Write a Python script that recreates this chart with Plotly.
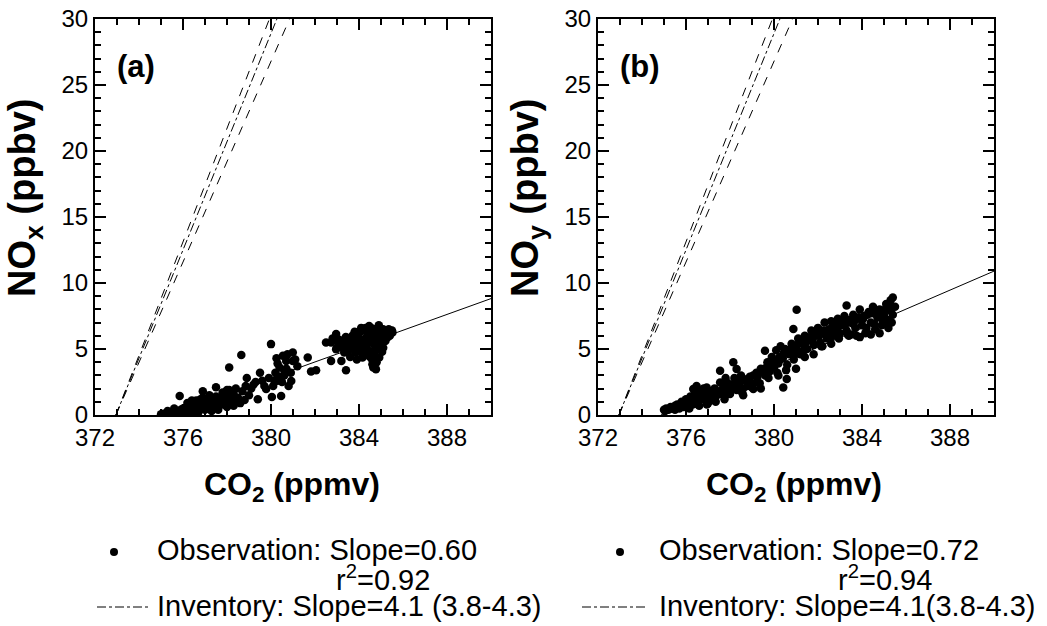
import plotly.graph_objects as go

# ---------------- data ----------------
# Panel (a): NOx vs CO2 observations
a_x = [375.0, 375.1, 375.2, 375.3, 375.4, 375.5, 375.6, 375.7, 375.8, 375.9, 376.0, 376.0, 376.1, 376.2, 376.2,
       376.3, 376.4, 376.5, 376.5, 376.6, 376.7, 376.7, 376.8, 376.9, 377.0, 377.0, 377.1, 377.2, 377.3, 377.3,
       377.4, 377.5, 377.6, 377.6, 377.7, 377.8, 377.9, 378.0, 378.0, 378.1, 378.2, 378.3, 378.3, 378.4, 378.5,
       378.6, 375.85, 376.9, 377.5, 378.1, 378.0, 378.65, 378.85, 378.8, 379.4, 379.5, 379.78, 380.0, 380.04,
       380.16, 380.39, 380.54, 380.46, 380.69, 380.99, 380.92, 380.99, 381.67, 381.82, 382.05, 382.73, 382.73,
       382.5, 382.96, 383.2, 383.41, 382.96, 380.2, 380.4, 380.6, 380.3, 380.7, 380.8, 380.1, 379.9, 380.5,
       381.2, 379.6, 379.2, 379.0, 378.9, 376.4, 376.2, 375.3, 375.6, 376.8, 377.1,
       383.71, 384.01, 384.31, 384.46, 384.61, 384.92, 385.22, 385.52, 384.61, 384.77, 384.92, 383.86, 384.16,
       384.46, 385.07, 385.29, 384.77, 384.31, 383.56, 383.33, 383.5, 383.8, 384.0, 384.2, 384.4, 384.6, 384.8,
       385.0, 385.2, 385.4, 384.1, 384.3, 384.5, 384.7, 384.9, 385.1, 384.0, 384.2, 384.5, 384.7, 384.9, 385.1,
       385.3, 383.6, 383.9, 384.6, 384.8, 384.65, 383.2, 383.0, 382.8, 383.4, 383.7, 385.4, 385.5, 385.0, 384.4,
       383.9,
       375.05, 375.15, 375.25, 375.35, 375.45, 375.55, 375.65, 375.75, 375.85, 375.95, 376.05, 376.15, 376.25,
       376.35, 376.45, 376.55, 376.65, 376.75, 376.85, 376.95, 377.05, 377.15, 377.25, 377.35, 377.45, 377.55,
       377.65, 377.75, 377.85, 377.95, 378.05, 378.15, 378.25, 378.35, 378.45, 376.3, 376.6, 376.9, 377.2, 377.5,
       377.8, 378.1, 378.4, 378.7, 379.1, 379.3, 379.7, 380.3, 380.6, 380.9, 381.1, 380.25, 380.75,
       383.0, 383.15, 383.3, 383.45, 383.6, 383.75, 383.9, 384.05, 384.2, 384.35, 384.5, 384.65, 384.8, 384.95,
       385.1, 385.25, 385.4, 383.1, 383.4, 383.7, 384.0, 384.3, 384.55, 384.85, 385.15, 385.35, 384.15, 384.45,
       384.75, 385.05, 384.25, 384.55, 384.85, 383.8, 384.1, 384.7]
a_y = [0.05, 0.1, 0.0, 0.15, 0.05, 0.2, 0.1, 0.3, 0.15, 0.4, 0.2, 0.5, 0.3, 0.6, 0.1,
       0.4, 0.7, 0.3, 0.9, 0.5, 0.8, 0.2, 0.6, 1.0, 0.4, 0.8, 1.1, 0.6, 0.9, 0.3,
       1.2, 0.7, 1.0, 0.4, 1.3, 0.8, 1.1, 0.6, 1.4, 0.9, 1.2, 0.7, 1.6, 1.0, 1.3,
       0.9, 1.44, 1.8, 2.1, 3.6, 1.9, 4.55, 2.2, 1.14, 1.2, 3.2, 1.97, 5.37, 1.37,
       2.58, 3.6, 4.48, 1.44, 4.1, 4.73, 2.58, 4.1, 4.35, 3.29, 3.39, 4.1, 5.49,
       5.5, 6.13, 4.1, 3.39, 4.98, 3.2, 2.9, 3.0, 3.9, 3.5, 2.2, 2.2, 2.8, 2.5,
       3.7, 2.6, 2.3, 1.5, 2.8, 1.1, 0.9, 0.3, 0.5, 1.2, 0.7,
       5.87, 5.11, 5.61, 6.75, 6.12, 6.63, 6.37, 6.25, 3.84, 3.46, 4.35, 4.73, 4.35,
       4.85, 5.61, 5.87, 5.11, 4.6, 5.36, 4.73, 4.9, 5.4, 5.8, 5.0, 5.4, 5.6, 5.9,
       6.1, 5.6, 6.0, 4.8, 5.2, 4.4, 4.6, 5.3, 5.1, 6.2, 6.4, 6.3, 6.5, 6.8, 6.5,
       6.4, 4.4, 4.2, 4.2, 4.0, 3.6, 5.2, 5.6, 5.8, 5.6, 6.0, 6.3, 6.4, 5.8, 5.9,
       5.0,
       0.0, 0.05, 0.1, 0.05, 0.15, 0.1, 0.2, 0.15, 0.25, 0.2, 0.3, 0.25, 0.35,
       0.3, 0.45, 0.4, 0.55, 0.5, 0.6, 0.55, 0.65, 0.6, 0.75, 0.7, 0.85, 0.8,
       0.9, 0.85, 1.0, 0.95, 1.1, 1.05, 1.2, 1.15, 1.25, 0.8, 1.1, 1.3, 1.5, 1.4,
       1.7, 1.9, 2.0, 1.8, 2.0, 2.5, 2.2, 2.6, 3.4, 3.2, 4.2, 4.3, 4.6,
       5.1, 5.3, 5.0, 5.5, 5.0, 5.2, 5.5, 5.3, 5.7, 5.9, 6.0, 6.2, 6.4, 6.0,
       6.2, 6.0, 6.3, 5.7, 5.9, 5.6, 6.3, 6.6, 6.6, 6.4, 6.2, 6.5, 4.9, 4.7,
       4.9, 4.8, 5.5, 5.7, 5.5, 6.3, 6.6, 5.3]

# Panel (b): NOy vs CO2 observations
b_x = [375.0, 375.1, 375.2, 375.3, 375.4, 375.5, 375.5, 375.6, 375.7, 375.8, 375.9, 376.0, 376.0, 376.1, 376.2,
       376.3, 376.33, 376.48, 376.4, 376.5, 376.6, 376.7, 376.8, 376.94, 376.9, 377.0, 377.1, 377.2, 377.3, 377.4,
       377.55, 377.55, 377.6, 377.7, 377.8, 377.9, 378.0, 378.15, 378.3, 378.2, 378.3, 378.4, 378.5, 378.6, 378.7,
       378.8, 378.9, 379.06, 379.21, 379.2, 379.4, 379.59, 379.6, 379.7, 379.8, 379.9, 380.0, 380.1, 380.2, 380.3,
       380.42, 380.58, 380.4, 380.5, 380.6, 380.7, 380.88, 381.03, 380.8, 380.9, 381.0, 381.1, 381.2, 381.3, 381.4,
       381.5, 381.6, 381.7, 381.8, 381.9, 382.0, 382.1, 382.2, 382.3, 382.4, 382.5, 382.6, 382.7, 382.8, 382.9,
       383.0, 383.1, 383.2, 383.3, 383.3, 383.4, 383.5, 383.6, 383.7, 383.8, 383.9, 384.0, 384.1, 384.2, 384.3,
       384.4, 384.5, 384.6, 384.7, 384.8, 384.9, 385.0, 385.1, 385.2, 385.3, 385.4, 385.5, 385.4, 385.2, 384.8,
       384.4, 383.9, 377.0, 378.0, 379.0, 376.6, 377.3, 378.6, 379.4, 380.2, 381.0, 381.8, 382.6, 383.4, 384.2,
       385.0, 384.6, 385.3, 384.0, 383.6, 382.2, 381.4, 379.0, 378.1, 377.8,
       375.05, 375.25, 375.45, 375.65, 375.85, 376.05, 376.25, 376.45, 376.65, 376.85, 377.05, 377.25, 377.45,
       377.65, 377.85, 378.05, 378.25, 378.45, 378.65, 378.85, 379.05, 379.25, 379.45, 379.65, 379.85, 380.05,
       380.25, 380.45, 380.65, 380.85, 381.05, 381.25, 381.45, 381.65, 381.85, 382.05, 382.25, 382.45, 382.65,
       382.85, 383.05, 383.25, 383.45, 383.65, 383.85, 384.05, 384.25, 384.45, 384.65, 384.85, 385.05, 385.25,
       376.15, 376.55, 376.95, 377.35, 377.75, 378.55, 379.35, 379.75, 380.15, 380.55, 380.95, 381.35, 381.75,
       382.15, 382.55, 382.95, 383.35, 383.75, 384.15, 384.55, 384.95, 385.35]
b_y = [0.4, 0.5, 0.4, 0.6, 0.5, 0.7, 0.4, 0.8, 0.5, 1.0, 0.6, 1.2, 0.7, 0.9, 1.4,
       0.8, 1.97, 2.2, 1.6, 1.0, 1.8, 1.2, 2.0, 2.09, 1.4, 1.1, 1.8, 1.3, 2.0, 1.5,
       2.47, 3.36, 1.6, 2.2, 1.5, 2.4, 1.8, 3.99, 3.48, 2.8, 1.9, 2.3, 3.0, 2.0, 2.6,
       2.2, 2.9, 1.97, 2.47, 3.2, 3.5, 4.87, 3.0, 4.0, 3.3, 4.4, 3.6, 4.9, 3.9, 5.2,
       2.09, 2.72, 4.3, 5.0, 3.8, 4.6, 6.51, 7.98, 5.4, 4.2, 5.0, 5.8, 4.6, 5.4, 6.0,
       5.0, 5.7, 6.4, 5.3, 6.0, 6.6, 5.5, 6.2, 7.0, 5.8, 6.5, 7.1, 6.0, 6.8, 7.3,
       6.2, 7.0, 7.5, 8.3, 6.4, 7.2, 6.1, 7.6, 6.6, 7.3, 8.0, 6.8, 7.5, 6.3, 7.8,
       7.0, 8.2, 6.5, 7.4, 8.0, 6.8, 7.6, 8.4, 7.2, 8.7, 8.9, 8.2, 7.6, 6.6, 6.2,
       6.1, 5.9, 0.9, 1.6, 2.4, 0.7, 1.1, 1.5, 2.0, 3.0, 3.5, 4.6, 5.4, 6.0, 6.6,
       7.0, 7.9, 7.9, 7.2, 6.9, 5.2, 4.4, 2.1, 2.3, 2.8,
       0.3, 0.45, 0.55, 0.6, 0.75, 0.9, 1.0, 1.3, 1.4, 1.6, 1.7, 1.6, 1.8,
       1.9, 2.0, 2.2, 2.4, 2.5, 2.7, 2.6, 3.0, 2.9, 3.3, 3.6, 3.9, 4.1,
       4.4, 4.7, 4.9, 5.1, 5.3, 5.6, 5.5, 5.9, 6.2, 6.0, 6.4, 6.3, 6.6,
       6.5, 6.8, 6.9, 7.0, 7.1, 7.4, 7.3, 7.6, 7.7, 7.8, 7.6, 8.0, 8.2,
       0.5, 0.8, 0.8, 1.0, 1.2, 1.7, 2.4, 2.8, 3.2, 3.4, 4.6, 4.9, 5.6,
       5.2, 5.9, 5.8, 6.1, 6.0, 6.2, 6.9, 7.2, 7.0]

# regression / inventory parameters
obs_slope = [0.60, 0.72]
obs_x0 = [375.3, 374.86]          # CO2 where fitted line crosses zero
inv_slopes = [4.3, 4.1, 3.8]
inv_dashes = ["dash", "dashdot", "dash"]
inv_x0 = 372.95
x_range = [372, 390]
y_range = [0, 30]
x_ticks = [372, 376, 380, 384, 388]
y_ticks = [0, 5, 10, 15, 20, 25, 30]
panel_labels = ["(a)", "(b)"]
y_titles = ["NO<sub>x</sub> (ppbv)", "NO<sub>y</sub> (ppbv)"]
x_title = "CO<sub>2</sub> (ppmv)"
legend_obs = ["Observation: Slope=0.60", "Observation: Slope=0.72"]
legend_r2 = ["r<sup>2</sup>=0.92", "r<sup>2</sup>=0.94"]
legend_inv = ["Inventory: Slope=4.1 (3.8-4.3)", "Inventory: Slope=4.1(3.8-4.3)"]

# ---------------- figure ----------------
W, H = 1047, 626
FONT = "Liberation Sans, Arial, sans-serif"

def px(x):
    return x / W

def py(y):
    return 1 - y / H

fig = go.Figure()

panels = [
    dict(xa="x", ya="y", xd=[px(95), px(491)], data=(a_x, a_y)),
    dict(xa="x2", ya="y2", xd=[px(598), px(994)], data=(b_x, b_y)),
]

for i, p in enumerate(panels):
    for s, d in zip(inv_slopes, inv_dashes):
        xe = inv_x0 + y_range[1] / s
        fig.add_trace(go.Scatter(x=[inv_x0, xe], y=[0, y_range[1]], mode="lines",
                                 line=dict(color="black", width=1, dash=d),
                                 xaxis=p["xa"], yaxis=p["ya"], showlegend=False,
                                 hoverinfo="skip"))
    fig.add_trace(go.Scatter(x=p["data"][0], y=p["data"][1], mode="markers",
                             marker=dict(color="black", size=8.5, line=dict(width=0)),
                             xaxis=p["xa"], yaxis=p["ya"], showlegend=False))
    x0 = obs_x0[i]
    fig.add_trace(go.Scatter(x=[x0, x_range[1]], y=[0, obs_slope[i] * (x_range[1] - x0)],
                             mode="lines", line=dict(color="black", width=1),
                             xaxis=p["xa"], yaxis=p["ya"], showlegend=False,
                             hoverinfo="skip"))

minor = dict(dtick=1, ticklen=6, tickwidth=2, tickcolor="black", ticks="inside")
axis_common = dict(showgrid=False, zeroline=False, showline=True, linecolor="black",
                   linewidth=2, mirror="allticks", ticks="inside", ticklen=11,
                   tickwidth=2, tickcolor="black", automargin=False, minor=minor,
                   ticklabeloverflow="allow",
                   tickfont=dict(family=FONT, size=24, color="black"))

ydom = [py(415), py(19)]
fig.update_layout(
    template="none",
    width=W, height=H, margin=dict(l=0, r=0, t=0, b=0, pad=0),
    paper_bgcolor="white", plot_bgcolor="white",
    xaxis=dict(domain=panels[0]["xd"], range=x_range, tickvals=x_ticks, anchor="y", **axis_common),
    yaxis=dict(domain=ydom, range=y_range, tickvals=y_ticks, anchor="x", **axis_common),
    xaxis2=dict(domain=panels[1]["xd"], range=x_range, tickvals=x_ticks, anchor="y2", **axis_common),
    yaxis2=dict(domain=ydom, range=y_range, tickvals=y_ticks, anchor="x2", **axis_common),
    showlegend=False,
)

LEG = 29
annotations = []
shapes = []
label_x = [115, 618]
xtitle_x = [292, 794]
ytitle_x = [25, 528]
obs_x = [155, 657]
r2_x = [334, 836]
bullet_x = [114, 620]
line_x = [(97, 148), (582, 647)]
for i in range(2):
    annotations.append(dict(x=px(label_x[i]), y=py(66), xref="paper", yref="paper",
                            text="<b>" + panel_labels[i] + "</b>", showarrow=False,
                            xanchor="left", yanchor="middle",
                            font=dict(family=FONT, size=31, color="black")))
    annotations.append(dict(x=px(xtitle_x[i]), y=py(486), xref="paper", yref="paper",
                            text="<b>" + x_title + "</b>", showarrow=False,
                            xanchor="center", yanchor="middle",
                            font=dict(family=FONT, size=32, color="black")))
    annotations.append(dict(x=px(ytitle_x[i]), y=py(198), xref="paper", yref="paper",
                            text="<b>" + y_titles[i] + "</b>", showarrow=False, textangle=-90,
                            xanchor="center", yanchor="middle",
                            font=dict(family=FONT, size=38, color="black")))
    annotations.append(dict(x=px(obs_x[i]), y=py(550), xref="paper", yref="paper",
                            text=legend_obs[i], showarrow=False, xanchor="left", yanchor="middle",
                            font=dict(family=FONT, size=LEG, color="black")))
    annotations.append(dict(x=px(r2_x[i]), y=py(578), xref="paper", yref="paper",
                            text=legend_r2[i], showarrow=False, xanchor="left", yanchor="middle",
                            font=dict(family=FONT, size=LEG, color="black")))
    annotations.append(dict(x=px(obs_x[i]), y=py(606), xref="paper", yref="paper",
                            text=legend_inv[i], showarrow=False, xanchor="left", yanchor="middle",
                            font=dict(family=FONT, size=LEG, color="black")))
    bx = bullet_x[i]
    shapes.append(dict(type="circle", xref="paper", yref="paper",
                       x0=px(bx - 4), x1=px(bx + 4), y0=py(552 - 4), y1=py(552 + 4),
                       fillcolor="black", line=dict(width=0)))
    shapes.append(dict(type="line", xref="paper", yref="paper",
                       x0=px(line_x[i][0]), x1=px(line_x[i][1]), y0=py(607), y1=py(607),
                       line=dict(color="black", width=1, dash="dashdot")))

fig.update_layout(annotations=annotations, shapes=shapes)
fig.write_html("out.html", config={"displayModeBar": False},
               post_script="document.body.style.margin='0';document.body.style.overflow='hidden';")
